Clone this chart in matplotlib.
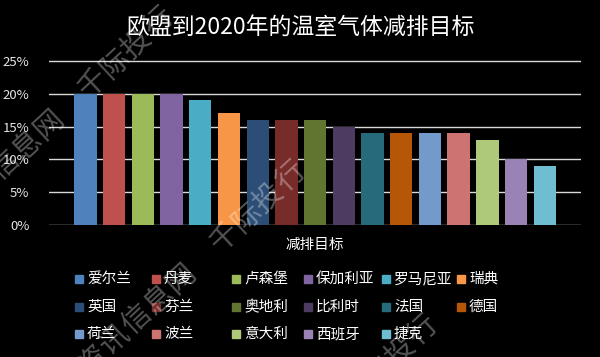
import numpy as np
import matplotlib
matplotlib.use("Agg")
import matplotlib.pyplot as plt
from matplotlib.patches import Rectangle

plt.rcParams['font.family'] = ['Noto Sans CJK SC', 'DejaVu Sans']

# data
countries = ["爱尔兰", "丹麦", "卢森堡", "保加利亚", "罗马尼亚", "瑞典",
             "英国", "芬兰", "奥地利", "比利时", "法国", "德国",
             "荷兰", "波兰", "意大利", "西班牙", "捷克"]
targets = [20, 20, 20, 20, 19, 17, 16, 16, 16, 15, 14, 14, 14, 14, 13, 10, 9]
colors = ["#4F81BD", "#C0504D", "#9BBB59", "#8064A2", "#4BACC6", "#F79646",
          "#2C4D75", "#772C2A", "#5F7530", "#4D3B62", "#276A7C", "#B65708",
          "#729ACA", "#CD7371", "#AFC97A", "#9983B5", "#6FBDD1"]
yticks = [0, 5, 10, 15, 20, 25]
title = "欧盟到2020年的温室气体减排目标"
xlabel = "减排目标"
watermark = "资讯信息网 千际投行"

W, H = 600, 357
fig = plt.figure(figsize=(6, 3.57), dpi=100, facecolor="black")

# plot area in pixels
px_left, px_right = 49, 581
px_zero, px_per_pct = 225, 6.56
ytop = 25.5
ax_bottom = 1 - px_zero / H
ax_height = ytop * px_per_pct / H
ax = fig.add_axes([px_left / W, ax_bottom, (px_right - px_left) / W, ax_height])
ax.set_facecolor("black")

x = np.arange(len(countries))
ax.bar(x, targets, width=0.78, color=colors, zorder=2)
ax.set_xlim(-1.27, 17.26)
ax.set_ylim(0, ytop)

for v in yticks:
    ax.axhline(v, color="#d9d9d9", lw=1.0, zorder=1)
ax.set_yticks(yticks)
ax.set_yticklabels([f"{v}%" for v in yticks], color="#e6e6e6", fontsize=9.5)
ax.tick_params(axis="y", length=0, pad=14)
ax.set_xticks([])
for s in ax.spines.values():
    s.set_visible(False)

fig.text(0.5, 1 - 27 / H, title, color="white", fontsize=16.5,
         ha="center", va="center")
fig.text(315 / W, 1 - 245 / H, xlabel, color="white", fontsize=10.5,
         ha="center", va="center")

# legend, 6 columns x 3 rows
col_x = [75, 152, 232, 304, 382, 457]
row_y = [279, 307, 334]
for i, (name, c) in enumerate(zip(countries, colors)):
    cx = col_x[i % 6]
    cy = row_y[i // 6]
    fig.patches.append(Rectangle((cx / W, 1 - (cy + 4) / H), 8 / W, 8 / H,
                                 transform=fig.transFigure, color=c, figure=fig))
    fig.text((cx + 12) / W, 1 - cy / H, name, color="white", fontsize=10.5,
             ha="left", va="center")

# diagonal watermark
ang = np.deg2rad(43)
step = 30
for dx, dy in [(-132, -154), (0, 0), (132, 154)]:
    for k, ch in enumerate(watermark):
        if ch == " ":
            continue
        px = 225 + dx + (k - 6) * step * np.cos(ang)
        py = 238 + dy - (k - 6) * step * np.sin(ang)
        fig.text(px / W, 1 - py / H, ch, color="white", alpha=0.33,
                 fontsize=21, rotation=43, ha="center", va="center", zorder=10)

fig.savefig("out.png", dpi=100, facecolor="black")
